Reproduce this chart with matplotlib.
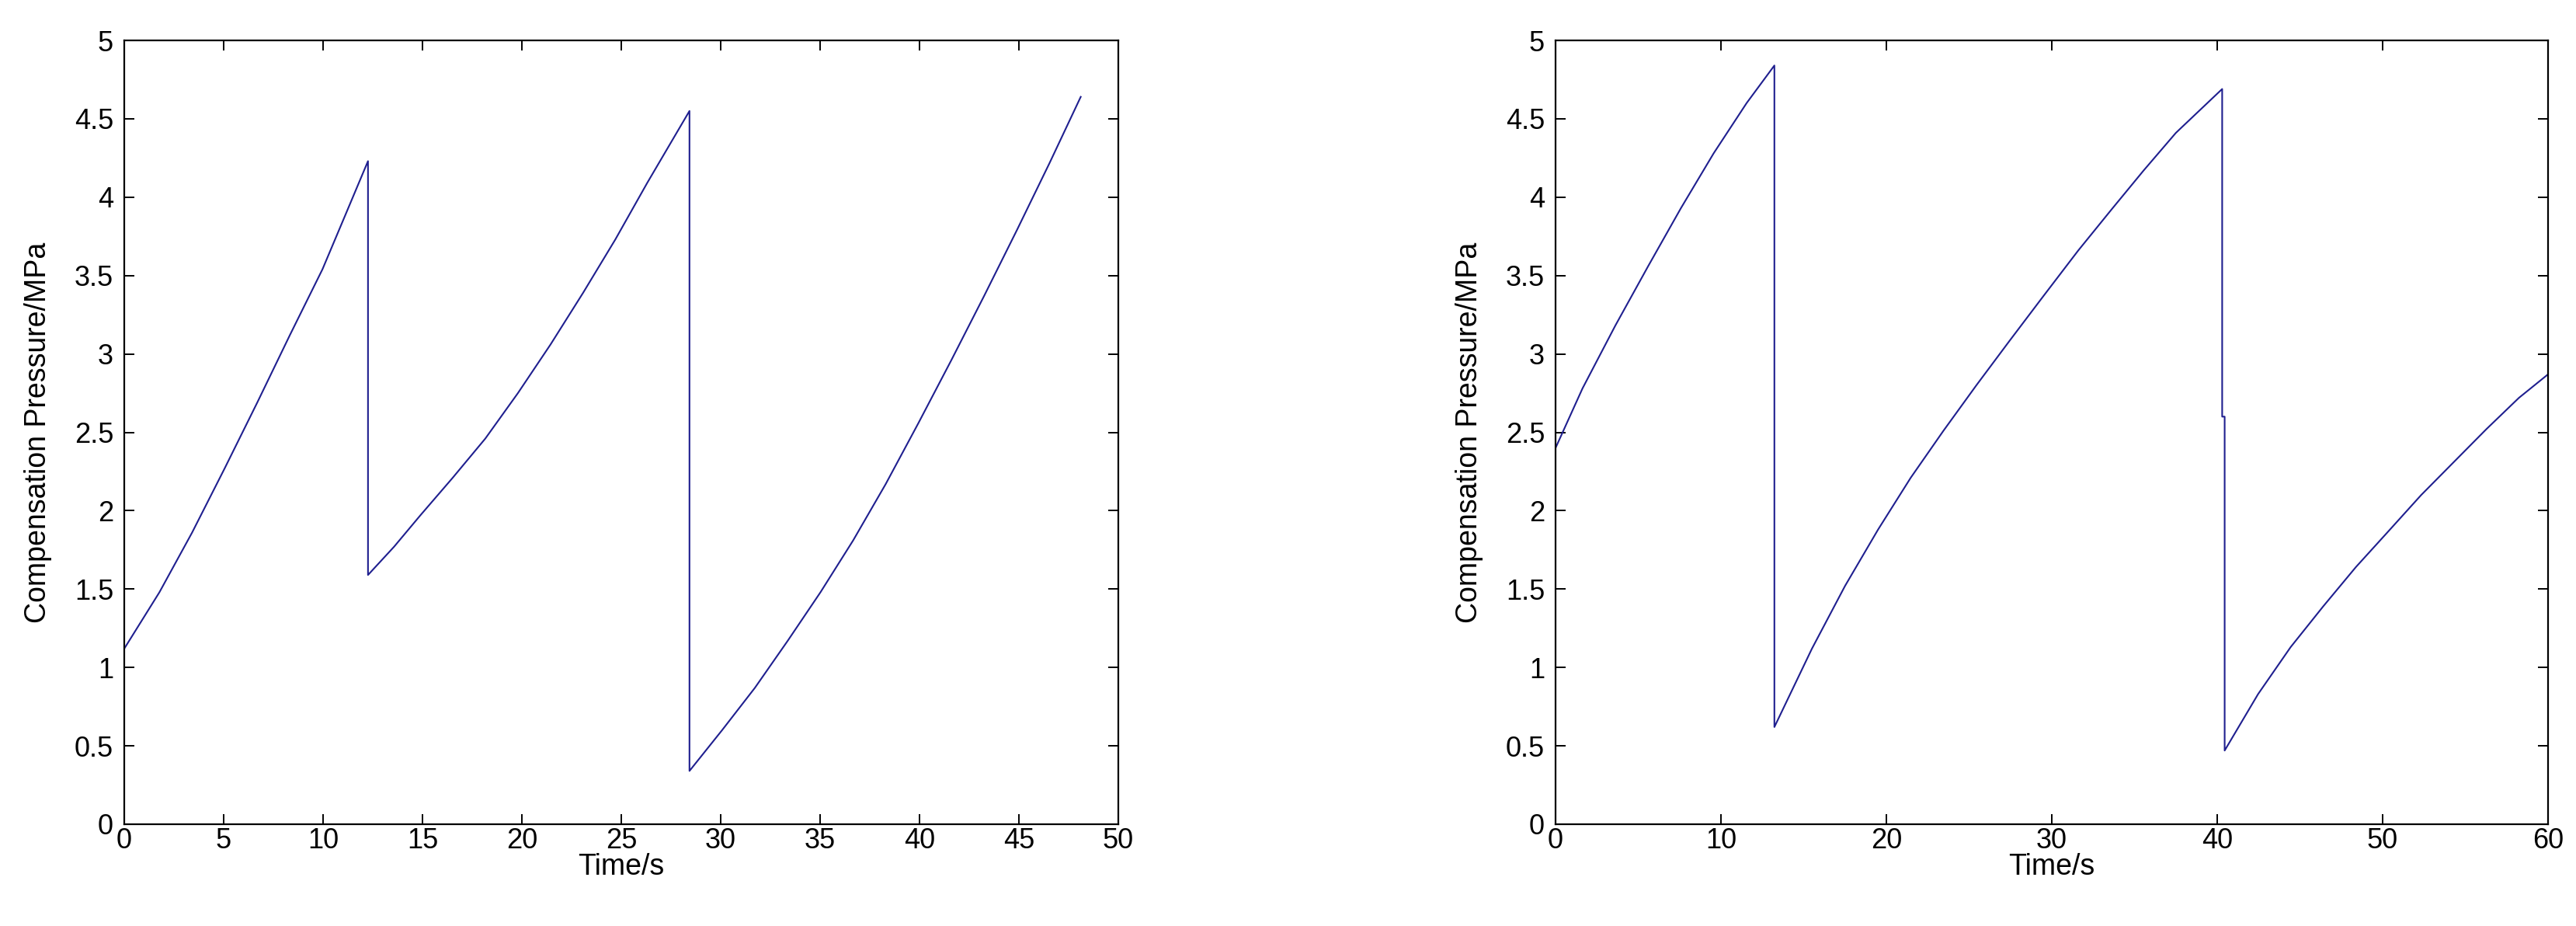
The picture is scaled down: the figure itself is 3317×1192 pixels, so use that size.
import matplotlib
matplotlib.use("Agg")
import matplotlib.pyplot as plt

# values (time in s, pressure in MPa)
t_left = [0, 1.77, 3.41, 5.05, 6.69, 8.33, 9.97, 11.1, 12.26,
          12.26, 13.57, 14.89, 16.52, 18.16, 19.8, 21.44, 23.08, 24.7, 26.3, 28.43,
          28.43, 30.07, 31.72, 33.37, 35.02, 36.66, 38.3, 39.95, 41.6, 43.25,
          44.9, 46.55, 48.11]
p_left = [1.12, 1.48, 1.86, 2.27, 2.69, 3.12, 3.54, 3.88, 4.23,
          1.59, 1.77, 1.97, 2.21, 2.46, 2.75, 3.06, 3.39, 3.73, 4.09, 4.55,
          0.34, 0.60, 0.87, 1.17, 1.48, 1.81, 2.17, 2.56, 2.96, 3.37,
          3.79, 4.22, 4.64]

t_right = [0, 1.63, 3.61, 5.6, 7.58, 9.56, 11.55, 13.23,
           13.23, 15.5, 17.5, 19.5, 21.47, 23.45, 25.44, 27.42, 29.5, 31.6,
           33.6, 35.55, 37.5, 40.3,
           40.3, 40.45,
           40.45, 42.47, 44.44, 46.41, 48.38, 50.36, 52.33, 54.3, 56.27, 58.24, 60]
p_right = [2.40, 2.78, 3.18, 3.56, 3.93, 4.28, 4.60, 4.84,
           0.62, 1.12, 1.52, 1.88, 2.21, 2.51, 2.80, 3.08, 3.37, 3.66,
           3.92, 4.17, 4.41, 4.69,
           2.60, 2.60,
           0.47, 0.83, 1.13, 1.39, 1.64, 1.87, 2.10, 2.31, 2.52, 2.72, 2.87]

y_ticks = [0, 0.5, 1, 1.5, 2, 2.5, 3, 3.5, 4, 4.5, 5]
y_tick_labels = ["0", "0.5", "1", "1.5", "2", "2.5", "3", "3.5", "4", "4.5", "5"]
x_ticks_left = [0, 5, 10, 15, 20, 25, 30, 35, 40, 45, 50]
x_ticks_right = [0, 10, 20, 30, 40, 50, 60]

x_label = "Time/s"
y_label = "Compensation Pressure/MPa"

plt.rcParams["font.family"] = ["Liberation Sans", "DejaVu Sans"]

LINE_COLOR = "#1f1f8f"
FS_TICK = 26
FS_LABEL = 27

fig = plt.figure(figsize=(33.17, 11.92), dpi=100)
ax_l = fig.add_axes([160 / 3317, 131 / 1192, 1280 / 3317, 1009 / 1192])
ax_r = fig.add_axes([2003 / 3317, 131 / 1192, 1278 / 3317, 1009 / 1192])

panels = [
    (ax_l, t_left, p_left, x_ticks_left, 50),
    (ax_r, t_right, p_right, x_ticks_right, 60),
]

for ax, t, p, xt, xmax in panels:
    ax.plot(t, p, color=LINE_COLOR, linewidth=1.5)
    ax.set_xlim(0, xmax)
    ax.set_ylim(0, 5)
    ax.set_xticks(xt, [str(v) for v in xt])
    ax.set_yticks(y_ticks, y_tick_labels)
    ax.tick_params(direction="in", length=9.5, width=1.4,
                   top=True, right=True, labelsize=FS_TICK)
    ax.tick_params(axis="x", pad=3)
    ax.tick_params(axis="y", pad=10)
    for s in ax.spines.values():
        s.set_linewidth(1.6)
    ax.set_xlabel(x_label, fontsize=FS_LABEL)
    ax.set_ylabel(y_label, fontsize=FS_LABEL)
    ax.xaxis.set_label_coords(0.5, -0.037)
    ax.yaxis.set_label_coords(-0.073, 0.5)

fig.savefig("out.png", dpi=100, facecolor="white")
